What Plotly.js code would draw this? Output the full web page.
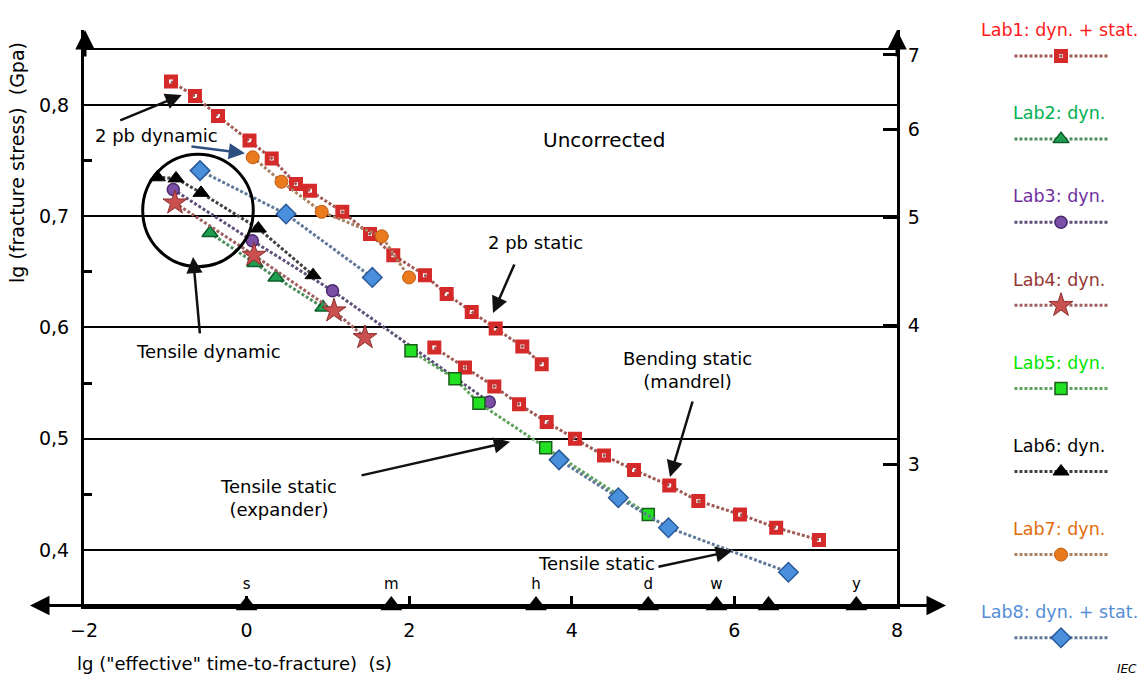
<!DOCTYPE html>
<html><head><meta charset="utf-8">
<script src="https://cdn.plot.ly/plotly-3.0.1.min.js"></script>
<style>html,body{margin:0;padding:0;background:#fff}#chart{width:1145px;height:679px}</style>
</head><body><div id="chart"></div>
<script>
// ---- data ----
const lab1DynX  = [-0.930,-0.635,-0.352,0.036,0.309,0.608,0.780,1.177,1.518,1.804,2.194,2.461,2.769,3.064,3.391,3.630];
const lab1DynY  = [0.821,0.808,0.790,0.768,0.752,0.729,0.723,0.704,0.684,0.665,0.647,0.630,0.614,0.599,0.583,0.567];
const lab1StatX = [2.309,2.686,3.047,3.351,3.691,4.039,4.396,4.765,5.199,5.556,6.069,6.514,7.040];
const lab1StatY = [0.582,0.564,0.547,0.531,0.515,0.500,0.485,0.472,0.458,0.444,0.432,0.420,0.409];
const lab2X = [-0.450,0.103,0.362,0.940];
const lab2Y = [0.685,0.658,0.645,0.618];
const lab3X = [-0.902,0.070,1.057,2.985];
const lab3Y = [0.724,0.678,0.633,0.533];
const lab4X = [-0.881,0.091,1.075,1.456];
const lab4Y = [0.712,0.665,0.615,0.591];
const lab5X = [2.022,2.563,2.858,3.679,4.941];
const lab5Y = [0.579,0.554,0.532,0.492,0.432];
const lab6X = [-1.098,-0.868,-0.561,0.144,0.817];
const lab6Y = [0.735,0.734,0.721,0.689,0.647];
const lab7X = [0.075,0.429,0.924,1.662,1.998];
const lab7Y = [0.753,0.731,0.704,0.682,0.645];
const lab8DynX  = [-0.573,0.485,1.546];
const lab8DynY  = [0.741,0.702,0.645];
const lab8StatX = [3.843,4.572,5.189,6.665];
const lab8StatY = [0.481,0.447,0.420,0.380];

const timeMarkX = [0, 1.78, 3.56, 4.94, 5.78, 6.42, 7.5];
const timeMarkLabels = ['s','m','h','d','w','','y'];

const xTickVals = [-2,0,2,4,6,8];
const xTickText = ['\u22122','0','2','4','6','8'];
const yTickVals = [0.4,0.5,0.6,0.7,0.8,0.85];
const yTickText = ['0,4','0,5','0,6','0,7','0,8',''];
const yMinorTicks = [0.45,0.55,0.65,0.75];
const gpaTickVals = [0.477,0.602,0.699,0.778,0.845];
const gpaTickText = ['3','4','5','6','7'];

const legendLabels = ['Lab1: dyn. + stat.','Lab2: dyn.','Lab3: dyn.','Lab4: dyn.','Lab5: dyn.','Lab6: dyn.','Lab7: dyn.','Lab8: dyn. + stat.'];
const legendTextColors = ['#ff1a1a','#00b050','#7030a0','#943634','#00e600','#000000','#e36c09','#558ed5'];

// ---- styles ----
const FONT = 'DejaVu Sans, Arial, sans-serif';
const styles = [
  {line:'#a05a55', sym:'square-open', col:'#d42a2a', size:9,  lc:'#d42a2a', lw:5},
  {line:'#4f8f5f', sym:'triangle-up', col:'#1f9e4f', size:14, lc:'#0b5e2c', lw:1.5},
  {line:'#5e5078', sym:'circle',      col:'#7a4fa5', size:12, lc:'#4b2a70', lw:1.5},
  {line:'#a06060', sym:'star',        col:'#c9504e', size:18, lc:'#8a3030', lw:1},
  {line:'#5fa35f', sym:'square',      col:'#22e022', size:12, lc:'#1a5e1a', lw:1.5},
  {line:'#404040', sym:'triangle-up', col:'#000000', size:14, lc:'#000000', lw:1},
  {line:'#a98060', sym:'circle',      col:'#ea7a1e', size:13, lc:'#c05a10', lw:1},
  {line:'#5f7897', sym:'diamond',     col:'#4a8fdc', size:15, lc:'#2a5a9a', lw:1.5}
];

const series = [
  [lab1DynX, lab1DynY, 0], [lab1StatX, lab1StatY, 0],
  [lab2X, lab2Y, 1], [lab3X, lab3Y, 2], [lab4X, lab4Y, 3],
  [lab5X, lab5Y, 4], [lab6X, lab6Y, 5], [lab7X, lab7Y, 6],
  [lab8DynX, lab8DynY, 7], [lab8StatX, lab8StatY, 7]
];

function markerOf(s) {
  return {symbol:s.sym, color:s.col, size:s.size, line:{color:s.lc, width:s.lw}};
}

const traces = [];
series.forEach(([xs, ys, si]) => {
  const s = styles[si];
  traces.push({
    x: xs, y: ys, type:'scatter', mode:'lines+markers', xaxis:'x', yaxis:'y',
    line:{color:s.line, width:3, dash:'3px,2px'},
    marker:markerOf(s), hoverinfo:'skip', showlegend:false
  });
});

// time markers on the x axis
traces.push({
  x: timeMarkX, y: timeMarkX.map(() => 0.35), type:'scatter', mode:'markers+text',
  text: timeMarkLabels, textposition:'top center',
  textfont:{family:FONT, size:15, color:'#000'},
  marker:{symbol:'triangle-up', size:19, color:'#000'},
  cliponaxis:false, hoverinfo:'skip', showlegend:false
});

// right-hand legend samples
const cx = 0.511, hw = 0.271;
styles.forEach((s, i) => {
  traces.push({x:[cx-hw, cx+hw], y:[i, i], xaxis:'x3', yaxis:'y3', type:'scatter', mode:'lines',
    line:{color:s.line, width:3, dash:'3px,2px'}, hoverinfo:'skip', showlegend:false});
  traces.push({x:[cx], y:[i], xaxis:'x3', yaxis:'y3', type:'scatter', mode:'markers',
    marker:markerOf(s), hoverinfo:'skip', showlegend:false, cliponaxis:false});
});

// ---- annotations ----
const W = 1145, H = 679;
const ann = [];
function arrow(x, y, ax, ay, color) {
  ann.push({x, y, xref:'x', yref:'y', ax, ay, axref:'pixel', ayref:'pixel', text:'', showarrow:true,
    arrowhead:2, arrowsize:1.3, arrowwidth:2.5, arrowcolor:color || '#111'});
}
function label(x, y, text, size) {
  ann.push({x, y, xref:'x', yref:'y', text, showarrow:false, xanchor:'center', yanchor:'middle',
    font:{family:FONT, size:size || 18, color:'#000'}});
}
label(4.390, 0.7685, 'Uncorrected', 20);
label(-1.113, 0.773, '2 pb dynamic');
label(3.551, 0.676, '2 pb static');
label(-0.472, 0.578, 'Tensile dynamic');
label(5.417, 0.5618, 'Bending static<br>(mandrel)');
label(0.389, 0.4467, 'Tensile static<br>(expander)');
label(4.298, 0.3874, 'Tensile static');
arrow(-0.798, 0.809, -63, 26);
arrow(-0.020, 0.7566, -55, -7, '#2c4f80');
arrow(-0.659, 0.6634, 7, 78);
arrow(3.031, 0.613, 22, -50);
arrow(5.208, 0.4656, 23, -77);
arrow(3.240, 0.4973, -150, 34);
arrow(5.970, 0.3991, -75, 16);

// axis arrows (paper coords)
const axisY = (H - 605.6) / H, topY = (H - 30) / H;
function paperArrow(px, py, ax, ay) {
  ann.push({x:px / W, y:py, xref:'paper', yref:'paper', ax, ay, text:'', showarrow:true,
    arrowhead:2, arrowsize:1.3, arrowwidth:3, arrowcolor:'#000'});
}
paperArrow(30, axisY, 28, 0);
paperArrow(946, axisY, -28, 0);
paperArrow(85, topY, 0, 28);
paperArrow(897, topY, 0, 28);

// titles
ann.push({x:234 / W, y:1 - 663 / H, xref:'paper', yref:'paper', showarrow:false, xanchor:'center', yanchor:'middle',
  text:'lg ("effective" time-to-fracture)\u00a0\u00a0(s)', font:{family:FONT, size:18, color:'#000'}});
ann.push({x:17 / W, y:1 - 163 / H, xref:'paper', yref:'paper', showarrow:false, textangle:-90, xanchor:'center', yanchor:'middle',
  text:'lg (fracture stress)\u00a0\u00a0(Gpa)', font:{family:FONT, size:19, color:'#000'}});
ann.push({x:1127 / W, y:1 - 669 / H, xref:'paper', yref:'paper', showarrow:false, xanchor:'center', yanchor:'middle',
  text:'<i>IEC</i>', font:{family:FONT, size:12, color:'#000'}});

// legend labels
legendLabels.forEach((t, i) => {
  ann.push({x:0.502, y:i - 0.31, xref:'x3', yref:'y3', showarrow:false, text:t, xanchor:'center', yanchor:'middle',
    font:{family:FONT, size:17.5, color:legendTextColors[i]}});
});

const shapes = [
  {type:'line', xref:'paper', yref:'paper', x0:40 / W, x1:936 / W, y0:axisY, y1:axisY, line:{color:'#000', width:3}},
  {type:'circle', xref:'x', yref:'y', x0:-1.278, x1:0.082, y0:0.6547, y1:0.7557, line:{color:'#000', width:3}}
];

const layout = {
  width:W, height:H, margin:{l:0, r:0, t:0, b:0},
  paper_bgcolor:'#fff', plot_bgcolor:'rgba(0,0,0,0)', showlegend:false,
  font:{family:FONT, color:'#000'},
  xaxis:{domain:[84 / W, 897 / W], range:[-2, 8], anchor:'y',
    tickvals:xTickVals, ticktext:xTickText, ticks:'inside', ticklen:10, tickwidth:3, tickcolor:'#000',
    showline:true, linecolor:'#000', linewidth:3, showgrid:false, zeroline:false,
    tickfont:{family:FONT, size:19, color:'#000'}, ticklabelstandoff:6},
  yaxis:{domain:[axisY, topY], range:[0.35, 0.8674], anchor:'x',
    tickvals:yTickVals, ticktext:yTickText, ticks:'', showline:true, linecolor:'#000', linewidth:3,
    showgrid:true, gridcolor:'#000', gridwidth:2, zeroline:false,
    minor:{tickvals:yMinorTicks, ticks:'inside', ticklen:8, tickwidth:3, tickcolor:'#000', showgrid:false},
    tickfont:{family:FONT, size:19, color:'#000'}, ticklabelstandoff:8},
  yaxis2:{overlaying:'y', side:'right', anchor:'x', range:[0.35, 0.8674],
    tickvals:gpaTickVals, ticktext:gpaTickText, ticks:'inside', ticklen:14, tickwidth:3, tickcolor:'#000',
    showline:true, linecolor:'#000', linewidth:3, showgrid:false, zeroline:false,
    tickfont:{family:FONT, size:19, color:'#000'}, ticklabelstandoff:4},
  xaxis3:{domain:[0.85, 1], range:[0, 1], anchor:'y3', visible:false},
  yaxis3:{domain:[0, 1], range:[7.497, -0.674], anchor:'x3', visible:false},
  annotations:ann, shapes:shapes
};

// dummy trace to show y2 axis
traces.push({x:[null], y:[null], yaxis:'y2', xaxis:'x', type:'scatter', mode:'markers', showlegend:false, hoverinfo:'skip'});

Plotly.newPlot('chart', traces, layout, {staticPlot:true, displayModeBar:false});
</script></body></html>
